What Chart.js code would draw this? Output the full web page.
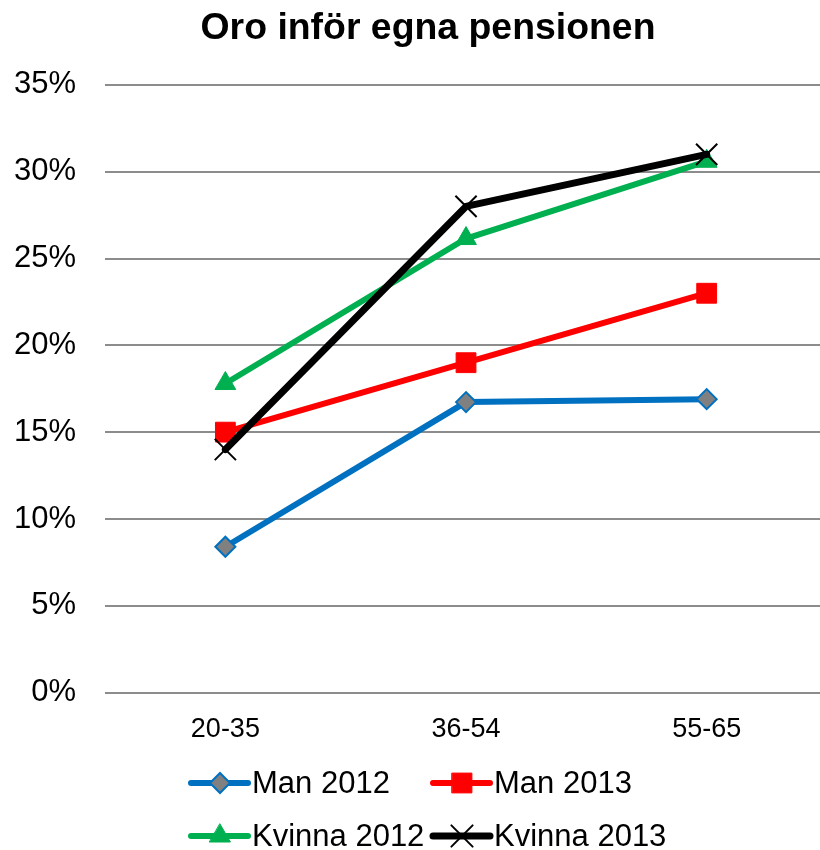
<!DOCTYPE html>
<html>
<head>
<meta charset="utf-8">
<script src="https://cdn.jsdelivr.net/npm/chart.js@4"></script>
<style>
  body { margin: 0; background: #fff; }
  #wrap { width: 820px; height: 850px; }
</style>
</head>
<body>
<div id="wrap"><canvas id="myChart" width="820" height="850"></canvas></div>
<script>
var categories = ["20-35", "36-54", "55-65"];
var man2012 = [0.084, 0.1673, 0.169];
var man2013 = [0.150, 0.190, 0.230];
var kvinna2012 = [0.178, 0.2615, 0.306];
var kvinna2013 = [0.140, 0.280, 0.310];
var yMin = 0, yMax = 0.35, yStep = 0.05;

// legend drawn by hand so it sits in two columns like the original
var legendPlugin = {
  id: "twoColLegend",
  afterLayout: function(chart) {
    // the plot area runs a little past the right edge in the original
    var s = chart.scales.x;
    s.right += 7;
    s.width += 7;
    s.configure();
    chart.titleBlock.left += 11;
    chart.titleBlock.right += 11;
  },
  afterDraw: function(chart) {
    var ctx = chart.ctx;
    var cols = [191, 433];
    var rows = [783, 836];
    chart.data.datasets.forEach(function(ds, i) {
      var x = cols[i % 2], y = rows[Math.floor(i / 2)];
      ctx.save();
      ctx.strokeStyle = ds.borderColor;
      ctx.lineWidth = ds.borderWidth;
      ctx.lineCap = "round";
      ctx.beginPath();
      ctx.moveTo(x, y);
      ctx.lineTo(x + 57, y);
      ctx.stroke();
      ctx.fillStyle = ds.pointBackgroundColor;
      ctx.strokeStyle = ds.pointBorderColor;
      ctx.lineWidth = ds.pointBorderWidth;
      Chart.helpers.drawPoint(ctx, {
        pointStyle: ds.pointStyle, radius: ds.pointRadius,
        rotation: 0, borderWidth: ds.pointBorderWidth
      }, x + 29, y);
      ctx.fillStyle = "#000";
      ctx.font = "31px Arial, 'Liberation Sans'";
      ctx.textBaseline = "middle";
      ctx.textAlign = "left";
      ctx.fillText(ds.label, x + 61, y + 1);
      ctx.restore();
    });
  }
};

function showChart() {
  new Chart("myChart", {
    type: "line",
    data: {
      labels: categories,
      datasets: [
        { label: "Man 2012", data: man2012, borderColor: "#0070C0", borderWidth: 6,
          pointStyle: "rectRot", pointRadius: 10, pointBackgroundColor: "#808080",
          pointBorderColor: "#0070C0", pointBorderWidth: 2, order: 4 },
        { label: "Man 2013", data: man2013, borderColor: "#FF0000", borderWidth: 6,
          pointStyle: "rect", pointRadius: 14, pointBackgroundColor: "#FF0000",
          pointBorderColor: "#FF0000", pointBorderWidth: 1, order: 3 },
        { label: "Kvinna 2012", data: kvinna2012, borderColor: "#00B050", borderWidth: 6,
          pointStyle: "triangle", pointRadius: 12, pointBackgroundColor: "#00B050",
          pointBorderColor: "#00B050", pointBorderWidth: 1, order: 2 },
        { label: "Kvinna 2013", data: kvinna2013, borderColor: "#000000", borderWidth: 7,
          pointStyle: "crossRot", pointRadius: 15, pointBackgroundColor: "#000000",
          pointBorderColor: "#000000", pointBorderWidth: 2, order: 1 }
      ]
    },
    options: {
      responsive: false,
      animation: false,
      elements: {
        line: { tension: 0, borderCapStyle: "round", borderJoinStyle: "round", fill: false },
        point: { hoverRadius: 10 }
      },
      layout: { autoPadding: false, padding: { left: 14, right: 0, top: 0, bottom: 104 } },
      plugins: {
        legend: { display: false },
        tooltip: { enabled: false },
        title: {
          display: true,
          text: "Oro inför egna pensionen",
          color: "#000",
          font: { family: "Arial, 'Liberation Sans'", size: 37.4, weight: "bold" },
          padding: { top: 6, bottom: 34 }
        }
      },
      scales: {
        x: {
          offset: true,
          grid: { display: false, drawTicks: false },
          border: { display: false },
          ticks: { color: "#000", padding: 21, font: { family: "Arial, 'Liberation Sans'", size: 27 } },
          afterFit: function(s) { s.height -= s.options.ticks.padding; }
        },
        y: {
          min: yMin, max: yMax,
          grid: { color: "#8c8c8c", lineWidth: 2, drawTicks: false },
          border: { display: false },
          ticks: {
            stepSize: yStep, color: "#000", padding: 29,
            font: { family: "Arial, 'Liberation Sans'", size: 31 },
            callback: function(v) { return Math.round(v * 100) + "%"; }
          },
          afterFit: function(s) { s.width -= s.options.ticks.padding; }
        }
      }
    },
    plugins: [legendPlugin]
  });
}

window.addEventListener("load", showChart);
</script>
</body>
</html>
